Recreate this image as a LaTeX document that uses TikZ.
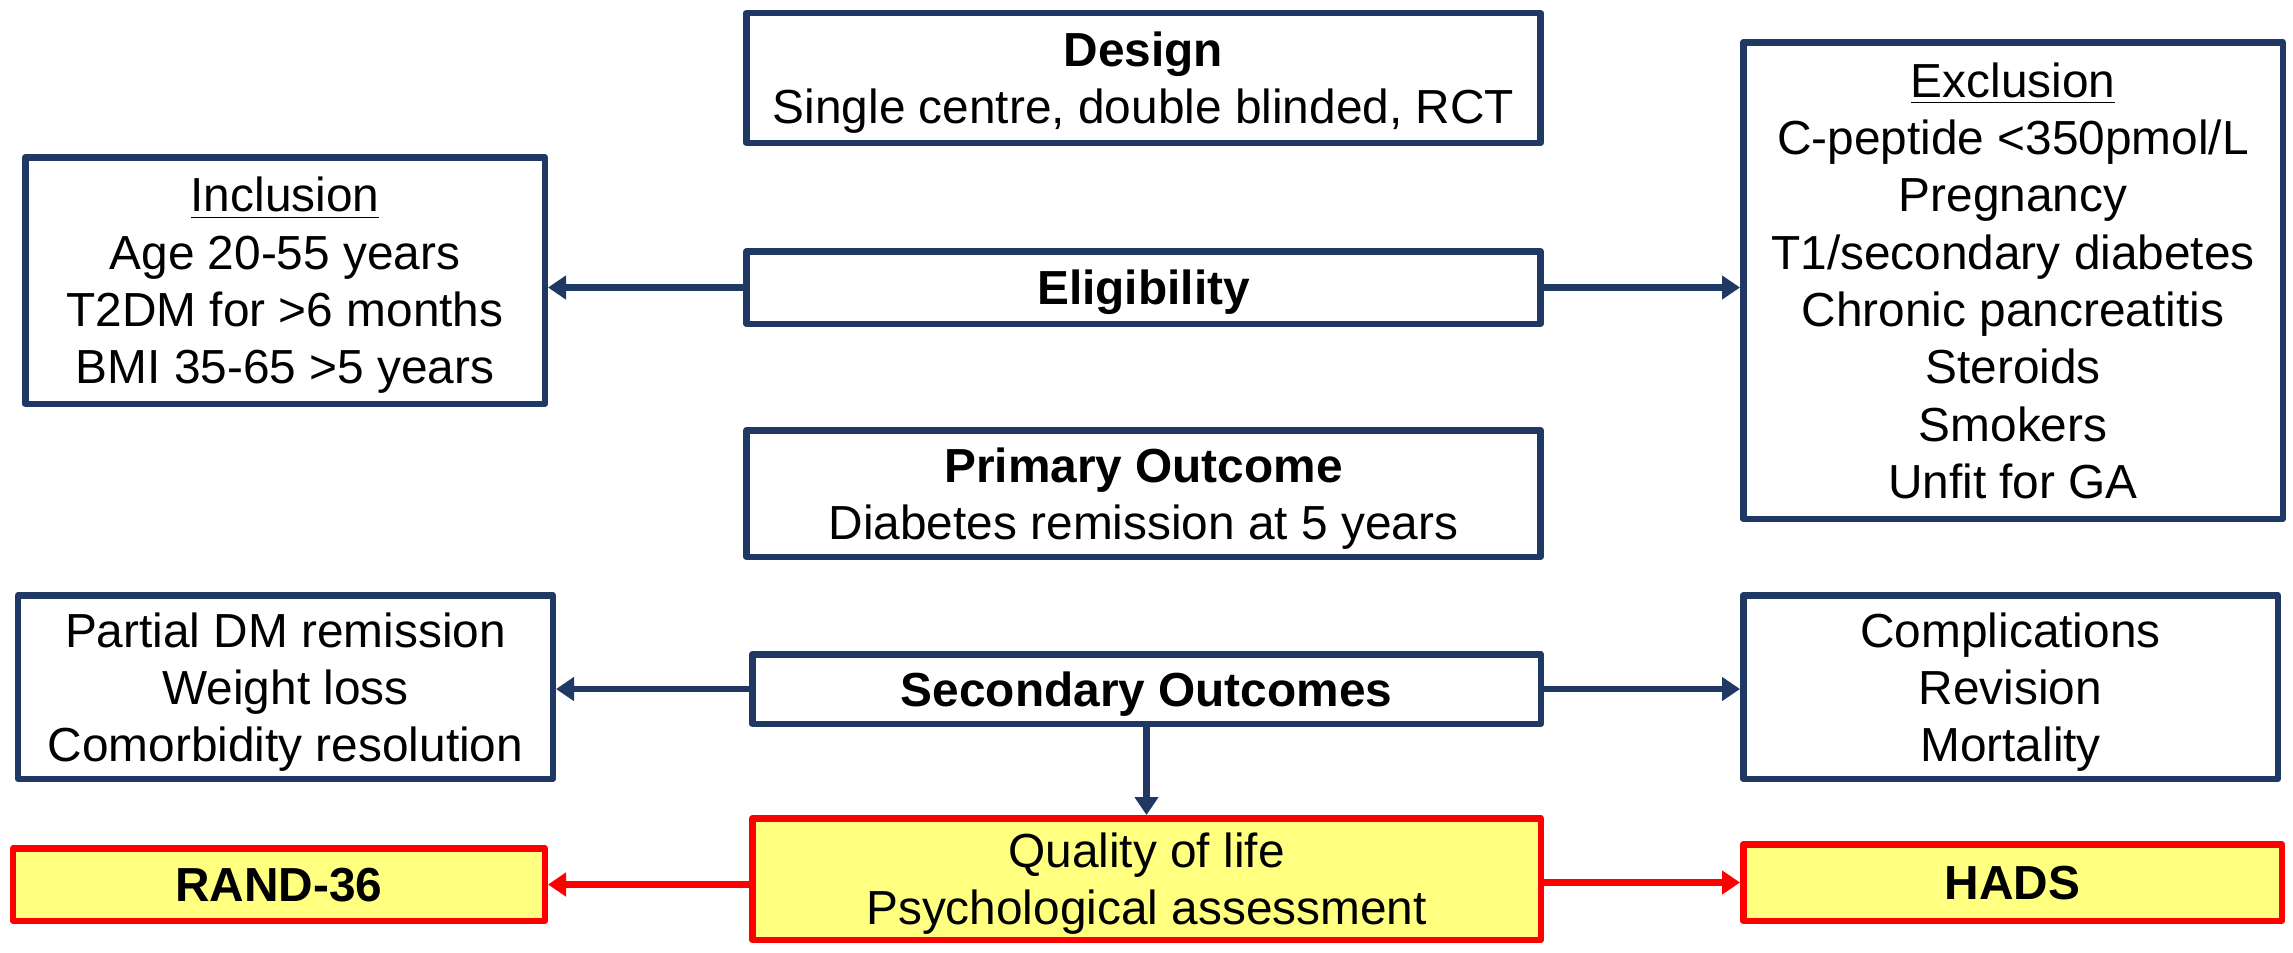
\documentclass[tikz,border=0pt]{standalone}
\usepackage{fontspec}
\setmainfont{Liberation Sans}
\usetikzlibrary{arrows.meta}

\definecolor{navy}{RGB}{32,56,100}
\definecolor{paleyellow}{RGB}{255,255,128}

\begin{document}
\begin{tikzpicture}[line join=round,
    box/.style={draw=navy, line width=0.065cm, fill=white, align=center, inner sep=0pt,
        text depth=0pt, font=\fontsize{13.6}{16.3}\selectfont},
    redbox/.style={box, draw=red, fill=paleyellow},
    arr/.style={navy, line width=0.065cm, -{Triangle[length=0.18cm, width=0.23cm]}},
    redarr/.style={arr, red}]

    \useasboundingbox (0,0) rectangle (22.93,-9.52);

    % top row: design and eligibility
    \node[box, minimum width=7.94cm, minimum height=1.30cm] (design) at (11.435,-0.78)
        {\textbf{Design}\\Single centre, double blinded, RCT};
    \node[box, minimum width=7.94cm, minimum height=0.725cm] (elig) at (11.435,-2.875)
        {\textbf{Eligibility}};

    % inclusion / exclusion criteria
    \node[box, minimum width=5.195cm, minimum height=2.465cm] (incl) at (2.85,-2.805)
        {\underline{Inclusion}\\Age 20-55 years\\T2DM for >6 months\\BMI 35-65 >5 years};
    \node[box, minimum width=5.395cm, minimum height=4.765cm] (excl) at (20.13,-2.805)
        {\underline{Exclusion}\\C-peptide <350pmol/L\\Pregnancy\\T1/secondary diabetes\\Chronic pancreatitis\\Steroids\\Smokers\\Unfit for GA};

    \draw[arr] (elig.west) -- (elig.west -| incl.east);
    \draw[arr] (elig.east) -- (elig.east -| excl.west);

    % outcomes
    \node[box, minimum width=7.94cm, minimum height=1.265cm] (primary) at (11.435,-4.935)
        {\textbf{Primary Outcome}\\Diabetes remission at 5 years};
    \node[box, minimum width=7.885cm, minimum height=0.695cm] (second) at (11.465,-6.89)
        {\textbf{Secondary Outcomes}};
    \node[box, minimum width=5.345cm, minimum height=1.835cm] (partial) at (2.855,-6.87)
        {Partial DM remission\\Weight loss\\Comorbidity resolution};
    \node[box, minimum width=5.345cm, minimum height=1.835cm] (compl) at (20.105,-6.87)
        {Complications\\Revision\\Mortality};

    \draw[arr] (second.west) -- (second.west -| partial.east);
    \draw[arr] (second.east) -- (second.east -| compl.west);

    % quality of life
    \node[redbox, minimum width=7.885cm, minimum height=1.215cm] (qol) at (11.465,-8.79)
        {Quality of life\\Psychological assessment};
    \node[redbox, minimum width=5.315cm, minimum height=0.725cm] (rand) at (2.79,-8.845)
        {\textbf{RAND-36}};
    \node[redbox, minimum width=5.385cm, minimum height=0.765cm] (hads) at (20.125,-8.825)
        {\textbf{HADS}};

    \draw[arr] (second.south) -- (qol.north);
    \draw[redarr] (qol.west |- rand.east) -- (rand.east);
    \draw[redarr] (qol.east |- hads.west) -- (hads.west);

\end{tikzpicture}
\end{document}
